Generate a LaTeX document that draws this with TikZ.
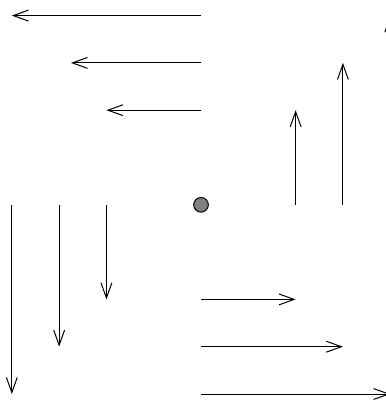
\documentclass[tikz,border=0pt]{standalone}
\usetikzlibrary{arrows.meta}
\tikzset{
    pin/.style={line width=0.6pt, -{Straight Barb[length=3.2mm,width=2.3mm]}},
    hub/.style={circle, draw, fill=gray, line width=0.6pt, minimum size=3.1mm, inner sep=0pt}
}
\begin{document}
\begin{tikzpicture}[x=1cm,y=1cm]
    \clip (-4.25,-4.19) rectangle (3.91,4.33);
    \node[hub] (c) at (0,0) {};
    % left and down
    \foreach \k/\l in {4/4,3/2.75,2/2} {
        \coordinate (lt\k) at (0,\k);
        \coordinate (lh\k) at (-\l,\k);
        \draw[pin] (lt\k) -- (lh\k);
        \coordinate (dt\k) at (-\k,0);
        \coordinate (dh\k) at (-\k,-\k);
        \draw[pin] (dt\k) -- (dh\k);
    }
    % right and up
    \foreach \k in {2,3,4} {
        \coordinate (rt\k) at (0,-\k);
        \coordinate (rh\k) at (\k,-\k);
        \draw[pin] (rt\k) -- (rh\k);
        \coordinate (ut\k) at (\k,0);
        \coordinate (uh\k) at (\k,\k);
        \draw[pin] (ut\k) -- (uh\k);
    }
\end{tikzpicture}
\end{document}
